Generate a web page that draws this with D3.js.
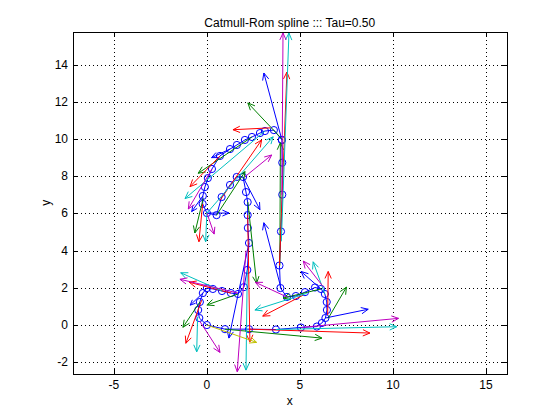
<!DOCTYPE html>
<html><head><meta charset="utf-8">
<script src="https://cdn.jsdelivr.net/npm/d3@7"></script>
<style>body{margin:0;background:#fff} svg{display:block} text{font-family:"Liberation Sans",Arial,sans-serif;fill:#000}</style>
</head><body><svg id="c" width="560" height="420"></svg>
<script>
const titleText = "Catmull-Rom spline ::: Tau=0.50";
const xDomain = [-7.21, 16.12];
const yDomain = [-2.62, 15.78];
const xTicks = [-5, 0, 5, 10, 15];
const yTicks = [-2, 0, 2, 4, 6, 8, 10, 12, 14];

// sampled spline points (blue circles)
const curveX = [4.03,3.60,3.12,2.85,2.42,2.04,1.61,1.24,0.70,0.27,0.05,-0.11,-0.22,-0.23,0.00,0.52,0.79,1.24,1.60,1.94,2.10,2.19,2.19,2.20,2.26,2.17,1.99,1.67,1.29,0.81,0.32,0.00,-0.22,-0.38,-0.47,-0.41,0.00,0.97,2.26,3.71,5.05,5.91,6.18,6.37,6.45,6.44,6.34,6.13,5.81,5.27,4.78,4.30,3.95,3.90,3.98,4.05,4.05,4.03];
const curveY = [9.95,10.48,10.43,10.32,10.11,9.95,9.68,9.46,9.09,8.39,7.90,7.42,6.94,6.51,6.02,5.91,6.88,7.53,7.96,7.96,7.15,6.61,5.91,5.22,4.41,2.96,2.04,1.67,1.72,1.83,1.94,1.99,1.72,1.24,0.81,0.38,0.00,-0.22,-0.22,-0.24,-0.13,-0.08,0.11,0.38,0.81,1.24,1.67,1.94,2.02,1.77,1.56,1.51,1.99,3.20,5.03,7.01,8.73,9.95];

// tangent arrows [x0, y0, x1, y1] per colour series
const blueArrows = [
  [4.03,9.95,3.06,13.55],[3.98,2.0,3.06,5.5],[1.94,7.96,2.85,6.2],[1.24,9.46,0.25,9.0],
  [-0.22,6.94,-0.82,6.1],[0.0,6.02,1.19,6.02],[2.26,4.41,1.18,-0.7],[-0.22,1.72,-0.9,1.07],
  [6.13,1.94,5.06,2.88],[6.37,0.38,8.67,0.85]
];
const greenArrows = [
  [4.08,9.95,2.2,11.94],[3.92,3.2,3.95,9.8],[2.42,10.11,-0.47,8.16],[0.52,5.91,2.05,8.25],
  [-0.2,6.81,-0.65,4.95],[2.2,6.61,2.67,2.24],[1.67,1.67,0.0,1.08],[-0.38,1.24,-1.29,-0.12],
  [0.97,-0.22,6.18,-0.7],[6.52,0.36,7.5,2.04],[6.13,1.94,4.1,1.45]
];
const redArrows = [
  [3.4,10.6,1.4,10.5],[3.9,3.2,4.3,13.6],[0.7,6.7,2.94,9.95],[0.7,9.09,-0.91,7.44],
  [-0.23,6.51,-0.43,4.48],[2.19,5.91,2.31,-0.9],[1.29,1.72,-0.95,2.3],[-0.28,1.34,-1.13,-0.98],
  [2.26,-0.22,8.76,-0.43],[6.49,0.54,6.52,2.88],[5.16,1.6,3.0,0.48]
];
const cyanArrows = [
  [4.0,4.5,4.41,15.7],[3.12,10.43,-1.18,6.8],[0.0,6.02,3.56,10.12],[0.0,6.09,-0.07,4.48],
  [2.17,2.96,2.1,-2.42],[0.81,1.83,-1.41,2.81],[-0.5,0.45,-0.55,-1.44],[3.71,-0.24,10.2,-0.09],
  [6.34,1.67,5.71,3.40],[5.36,1.7,2.58,0.81]
];
const magentaArrows = [
  [4.03,7.0,4.09,15.7],[0.27,8.39,-1.0,6.24],[2.04,7.97,3.48,9.14],[0.0,6.02,0.39,4.89],
  [2.1,4.0,1.63,-2.51],[1.67,1.72,-1.45,2.46],[-0.38,0.2,0.7,-1.47],[5.05,-0.13,10.3,0.36],
  [6.25,2.06,5.18,3.44],[4.3,1.51,2.6,2.3]
];
const yellowArrows = [
  [0.0,0.0,2.67,-0.93]
];

const series = [
  {data: blueArrows, color: "#0000ff"},
  {data: greenArrows, color: "#008000"},
  {data: redArrows, color: "#ff0000"},
  {data: cyanArrows, color: "#00bfbf"},
  {data: magentaArrows, color: "#bf00bf"},
  {data: yellowArrows, color: "#bfbf00"}
];

const L = 72.8, R = 506.8, T = 31.5, B = 373.8;
const svg = d3.select("#c");
const x = d3.scaleLinear().domain(xDomain).range([L, R]);
const y = d3.scaleLinear().domain(yDomain).range([B, T]);

svg.append("rect").attr("width",560).attr("height",420).attr("fill","#fff");

// grid
const grid = svg.append("g").attr("stroke","#000").attr("stroke-width",1).attr("stroke-dasharray","1,3").attr("shape-rendering","crispEdges");
xTicks.forEach(t => grid.append("line").attr("x1",Math.round(x(t))+0.5).attr("x2",Math.round(x(t))+0.5).attr("y1",T).attr("y2",B));
yTicks.forEach(t => grid.append("line").attr("y1",Math.round(y(t))+0.5).attr("y2",Math.round(y(t))+0.5).attr("x1",L).attr("x2",R));

svg.append("defs").append("clipPath").attr("id","pc").append("rect").attr("x",L).attr("y",T).attr("width",R-L).attr("height",B-T);
const plot = svg.append("g").attr("clip-path","url(#pc)");

// spline curve
const pts = curveX.map((v,i)=>[v,curveY[i]]);
plot.append("path").attr("d", d3.line().x(d=>x(d[0])).y(d=>y(d[1]))(pts))
  .attr("fill","none").attr("stroke","#0000ff").attr("stroke-width",1);
plot.selectAll("circle.pt").data(pts).join("circle").attr("class","pt")
  .attr("cx",d=>x(d[0])).attr("cy",d=>y(d[1])).attr("r",3.6)
  .attr("fill","none").attr("stroke","#0000ff").attr("stroke-width",1);

// arrows
series.forEach(s => {
  s.data.forEach(a => {
    const x0 = x(a[0]), y0 = y(a[1]), x1 = x(a[2]), y1 = y(a[3]);
    const dx = x1-x0, dy = y1-y0, len = Math.hypot(dx,dy);
    const ux = dx/len, uy = dy/len;
    const h = Math.min(7, 0.3*len), w = h*0.45;
    const bx = x1 - ux*h, by = y1 - uy*h;
    const g = plot.append("g").attr("stroke", s.color).attr("stroke-width",1).attr("fill","none");
    g.append("line").attr("x1",x0).attr("y1",y0).attr("x2",x1).attr("y2",y1);
    g.append("path").attr("d", `M${bx - uy*w},${by + ux*w}L${x1},${y1}L${bx + uy*w},${by - ux*w}`);
  });
});

// axes box and ticks
const ax = svg.append("g").attr("stroke","#000").attr("stroke-width",1).attr("shape-rendering","crispEdges");
ax.append("rect").attr("x",Math.round(L)+0.5).attr("y",Math.round(T)+0.5).attr("width",Math.round(R-L)).attr("height",Math.round(B-T)).attr("fill","none");
const tl = 4.5;
xTicks.forEach(t => {
  const px = Math.round(x(t))+0.5;
  ax.append("line").attr("x1",px).attr("x2",px).attr("y1",B).attr("y2",B-tl);
  ax.append("line").attr("x1",px).attr("x2",px).attr("y1",T).attr("y2",T+tl);
});
yTicks.forEach(t => {
  const py = Math.round(y(t))+0.5;
  ax.append("line").attr("y1",py).attr("y2",py).attr("x1",L).attr("x2",L+tl);
  ax.append("line").attr("y1",py).attr("y2",py).attr("x1",R).attr("x2",R-tl);
});

const fmt = t => String(t);
svg.append("g").selectAll("text").data(xTicks).join("text")
  .attr("x",d=>x(d)).attr("y",389).attr("text-anchor","middle").attr("font-size",12).text(fmt);
svg.append("g").selectAll("text").data(yTicks).join("text")
  .attr("x",68).attr("y",d=>y(d)+4).attr("text-anchor","end").attr("font-size",12).text(fmt);

svg.append("text").attr("x",(L+R)/2).attr("y",27).attr("text-anchor","middle").attr("font-size",12).text(titleText);
svg.append("text").attr("x",(L+R)/2).attr("y",405).attr("text-anchor","middle").attr("font-size",12).text("x");
svg.append("text").attr("transform",`translate(50,${(T+B)/2}) rotate(-90)`).attr("text-anchor","middle").attr("font-size",12).text("y");
</script></body></html>
